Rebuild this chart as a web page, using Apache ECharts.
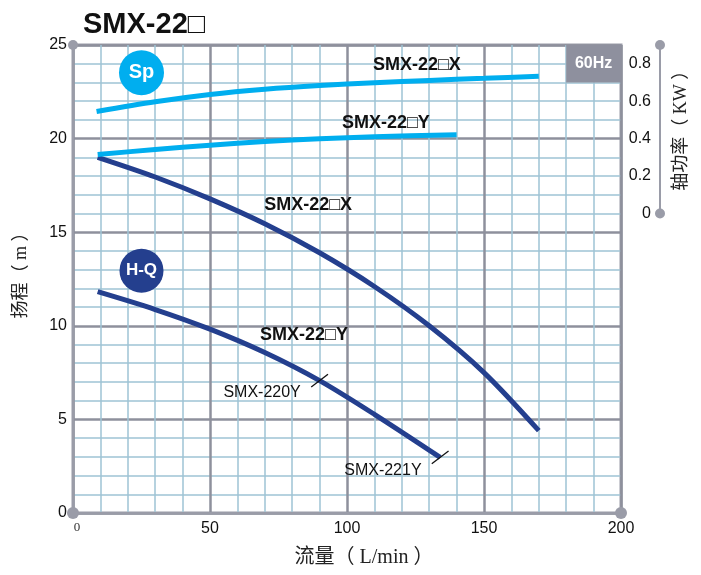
<!DOCTYPE html>
<html>
<head>
<meta charset="utf-8">
<script src="https://cdn.jsdelivr.net/npm/echarts@6/dist/echarts.min.js"></script>
<style>
html,body{margin:0;padding:0;background:#fff;}
#c{width:701px;height:575px;}
</style>
</head>
<body>
<div id="c"></div>
<script>
// ---- data ----
const flowHQX = [9, 30, 50, 70, 90, 110, 130, 150, 170];
const headHQX = [19.0, 17.95, 16.78, 15.45, 13.9, 12.1, 10.0, 7.5, 4.4];
const flowHQY = [9, 30, 50, 70, 90, 110, 134];
const headHQY = [11.82, 10.87, 9.82, 8.57, 7.07, 5.27, 2.97];
const flowSpX = [8.6, 30, 50, 70, 90, 110, 130, 150, 170];
const powerSpX = [0.545, 0.597, 0.636, 0.664, 0.684, 0.699, 0.711, 0.722, 0.733];
const flowSpY = [9, 30, 50, 70, 90, 110, 140];
const powerSpY = [0.315, 0.342, 0.365, 0.384, 0.399, 0.41, 0.42];
const flowTickLabels = ['0', '50', '100', '150', '200'];
const headTickLabels = ['0', '5', '10', '15', '20', '25'];
const powerTickLabels = ['0', '0.2', '0.4', '0.6', '0.8'];

const LIGHT = '#00aeef';
const DARK = '#243f8e';
const AXIS = '#9a9ca8';
const SANS = '"Liberation Sans", Arial, sans-serif';
const SERIFCJK = '"Liberation Serif", "Noto Sans CJK SC", serif';

function zip(a, b) { return a.map((v, i) => [v, b[i]]); }

const chart = echarts.init(document.getElementById('c'), null, {renderer: 'canvas'});

const dotLine = {
  show: true,
  lineStyle: {color: AXIS, width: 2},
  symbol: ['circle', 'circle'],
  symbolSize: [10, 10]
};

const option = {
  backgroundColor: '#fff',
  animation: false,
  title: {
    text: 'SMX-22\u25A1',
    left: 78, top: 5,
    textStyle: {fontFamily: SANS, fontWeight: 'bold', fontSize: 29, color: '#111'}
  },
  grid: [
    {left: 73, right: 80, top: 45, bottom: 62, show: true, borderColor: AXIS, borderWidth: 3, backgroundColor: '#fff'},
    {left: 73, right: 80, top: 45, bottom: 361.5, show: false}
  ],
  xAxis: [
    {
      gridIndex: 0, type: 'value', min: 0, max: 200, interval: 50,
      axisLine: {show: false}, axisTick: {show: false},
      axisLabel: {
        margin: 8, color: '#111', fontFamily: SANS, fontSize: 16,
        formatter: function (v) {
          const s = flowTickLabels[Math.round(v / 50)];
          return v === 0 ? '{s|' + s + '}' : s;
        },
        rich: {s: {fontFamily: '"Liberation Serif", serif', fontSize: 13, color: '#333', padding: [0, 0, 4, 8]}}
      },
      splitLine: {show: true, lineStyle: {color: '#8e909c', width: 2.5}},
      minorTick: {show: false, splitNumber: 5},
      minorSplitLine: {show: true, lineStyle: {color: '#9fc3d5', width: 1.5}}
    },
    {
      gridIndex: 0, type: 'value', min: 0, max: 200, position: 'bottom', offset: 30,
      axisLine: Object.assign({}, dotLine, {symbolSize: [12, 12]}),
      axisTick: {show: false}, axisLabel: {show: false}, splitLine: {show: false},
      name: '流量（ L/min ）', nameLocation: 'middle', nameGap: 5,
      nameTextStyle: {fontFamily: SERIFCJK, fontSize: 20, color: '#222', verticalAlign: 'top', padding: [0, 0, 0, 34]}
    },
    {
      gridIndex: 1, type: 'value', min: 0, max: 200, show: false
    }
  ],
  yAxis: [
    {
      gridIndex: 0, type: 'value', min: 0, max: 25, interval: 5,
      axisLine: {show: false}, axisTick: {show: false},
      axisLabel: {
        margin: 6, color: '#111', fontFamily: SANS, fontSize: 16,
        formatter: function (v) { return headTickLabels[Math.round(v / 5)]; }
      },
      splitLine: {show: true, lineStyle: {color: '#8e909c', width: 2.5}},
      minorTick: {show: false, splitNumber: 5},
      minorSplitLine: {show: true, lineStyle: {color: '#9fc3d5', width: 1.5}}
    },
    {
      gridIndex: 0, type: 'value', min: 0, max: 25, position: 'left', offset: 33,
      axisLine: dotLine, axisTick: {show: false}, axisLabel: {show: false}, splitLine: {show: false},
      name: '扬程（ m ）', nameLocation: 'middle', nameRotate: 90, nameGap: 10,
      nameTextStyle: {fontFamily: SERIFCJK, fontSize: 18, color: '#222', padding: [0, 0, 0, 16]}
    },
    {
      gridIndex: 1, type: 'value', min: 0, max: 0.9, interval: 0.2, position: 'right',
      axisLine: {show: false}, axisTick: {show: false}, splitLine: {show: false},
      axisLabel: {
        margin: 30, align: 'right', color: '#111', fontFamily: SANS, fontSize: 16,
        formatter: function (v) {
          const i = Math.round(v / 0.2);
          return Math.abs(v - i * 0.2) < 1e-6 ? (powerTickLabels[i] || '') : '';
        }
      }
    },
    {
      gridIndex: 1, type: 'value', min: 0, max: 0.9, position: 'right', offset: 39,
      axisLine: dotLine, axisTick: {show: false}, axisLabel: {show: false}, splitLine: {show: false},
      name: '轴功率（ KW ）', nameLocation: 'middle', nameRotate: 90, nameGap: 12,
      nameTextStyle: {fontFamily: SERIFCJK, fontSize: 18, color: '#222', padding: [0, 0, 0, 6]}
    }
  ],
  series: [
    {
      name: 'H-Q X', type: 'line', xAxisIndex: 0, yAxisIndex: 0, smooth: 0.3,
      showSymbol: false, data: zip(flowHQX, headHQX),
      lineStyle: {color: DARK, width: 5}, itemStyle: {color: DARK},
      markArea: {
        silent: true,
        itemStyle: {color: '#8e909e', opacity: 1},
        label: {show: true, position: 'inside', formatter: '60Hz', color: '#fff', fontFamily: SANS, fontWeight: 'bold', fontSize: 16},
        data: [[{xAxis: 180, yAxis: 23}, {xAxis: 200, yAxis: 25}]]
      }
    },
    {
      name: 'H-Q Y', type: 'line', xAxisIndex: 0, yAxisIndex: 0, smooth: 0.3,
      showSymbol: false, data: zip(flowHQY, headHQY),
      lineStyle: {color: DARK, width: 5}, itemStyle: {color: DARK}
    },
    {
      name: 'Sp X', type: 'line', xAxisIndex: 2, yAxisIndex: 2, smooth: 0.3,
      showSymbol: false, data: zip(flowSpX, powerSpX),
      lineStyle: {color: LIGHT, width: 5}, itemStyle: {color: LIGHT}
    },
    {
      name: 'Sp Y', type: 'line', xAxisIndex: 2, yAxisIndex: 2, smooth: 0.3,
      showSymbol: false, data: zip(flowSpY, powerSpY),
      lineStyle: {color: LIGHT, width: 5}, itemStyle: {color: LIGHT}
    },
    {
      // model tick marks on the Y curve
      name: 'ticks', type: 'scatter', xAxisIndex: 0, yAxisIndex: 0,
      symbol: 'rect', symbolSize: [21, 1.3], symbolRotate: 37,
      itemStyle: {color: '#111', opacity: 1}, z: 5, silent: true,
      data: [[flowHQY[4], headHQY[4]], [flowHQY[6], headHQY[6]]]
    },
    {
      // annotations on the head grid
      name: 'notes', type: 'scatter', xAxisIndex: 0, yAxisIndex: 0, symbolSize: 0, z: 6, silent: true,
      itemStyle: {opacity: 1},
      label: {show: true, position: 'inside', formatter: '{b}', color: '#111', fontFamily: SANS, fontSize: 18, fontWeight: 'bold'},
      data: [
        {name: 'SMX-22\u25A1X', value: [85.8, 16.45]},
        {name: 'SMX-22\u25A1Y', value: [84.3, 9.51]},
        {name: 'SMX-220Y', value: [69, 6.41], label: {fontWeight: 'normal', fontSize: 16}},
        {name: 'SMX-221Y', value: [113.1, 2.24], label: {fontWeight: 'normal', fontSize: 16}},
        {name: 'H-Q', value: [25, 12.94], symbol: 'circle', symbolSize: 44, itemStyle: {color: DARK, opacity: 1},
          label: {color: '#fff', fontSize: 17}}
      ]
    },
    {
      // annotations on the power grid
      name: 'notes2', type: 'scatter', xAxisIndex: 2, yAxisIndex: 2, symbolSize: 0, z: 6, silent: true,
      itemStyle: {opacity: 1},
      label: {show: true, position: 'inside', formatter: '{b}', color: '#111', fontFamily: SANS, fontSize: 18, fontWeight: 'bold'},
      data: [
        {name: 'SMX-22\u25A1X', value: [125.5, 0.793]},
        {name: 'SMX-22\u25A1Y', value: [114.2, 0.483]},
        {name: 'Sp', value: [25, 0.752], symbol: 'circle', symbolSize: 45, itemStyle: {color: LIGHT, opacity: 1},
          label: {color: '#fff', fontSize: 20}}
      ]
    }
  ]
};
chart.setOption(option);
</script>
</body>
</html>
